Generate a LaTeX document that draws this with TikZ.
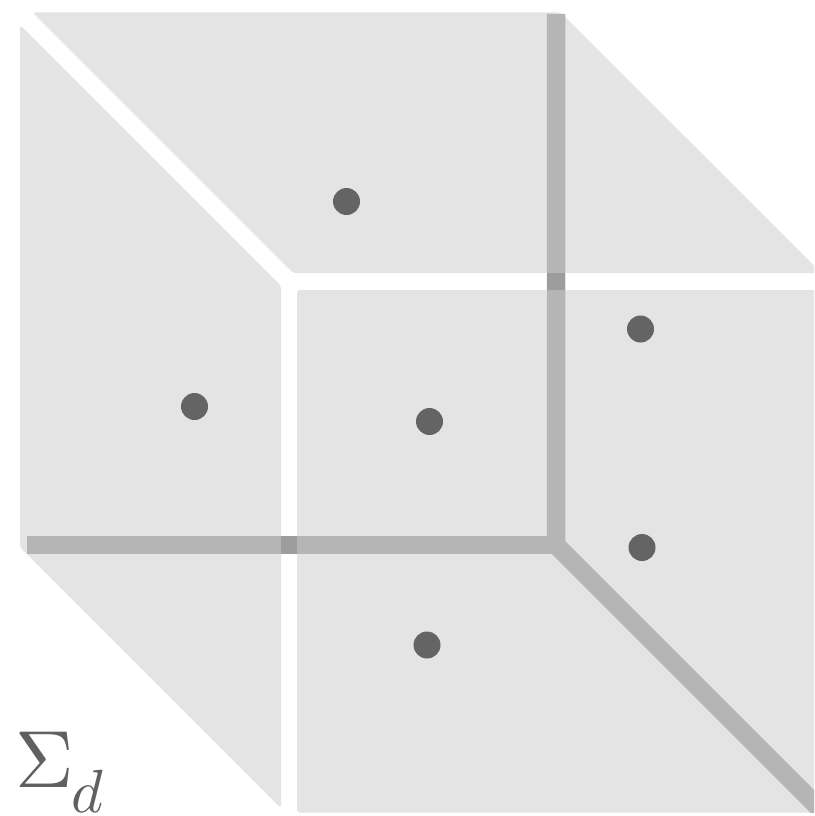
\documentclass[tikz,border=0pt]{standalone}
\usepackage{graphicx}
\definecolor{facegray}{RGB}{228,228,228}
\definecolor{edgegray}{RGB}{180,181,180}
\definecolor{crossgray}{RGB}{156,157,156}
\definecolor{dotgray}{RGB}{100,100,100}
\definecolor{labelgray}{RGB}{96,96,96}
\begin{document}
\begin{tikzpicture}[x=1pt,y=-1pt,
  face/.style={fill=facegray, rounded corners=3pt},
  hidden/.style={draw=edgegray, line width=18.5pt, line join=miter},
  crossing/.style={fill=crossgray},
  dot/.style={circle, fill=dotgray, minimum size=27pt, inner sep=0pt}]
\fill[white] (0,0) rectangle (814,816);
\useasboundingbox (0,0) rectangle (814,816);
\begin{scope}
  \clip (0,0) rectangle (814,816);
  % faces
  \fill[face] (32.5,12.5) -- (560.5,12.5) -- (821.5,273) -- (293,273) -- cycle;
  \fill[face] (20,25) -- (281,286) -- (281,808) -- (20,547) -- cycle;
  \fill[face] (297,290) -- (840,290) -- (840,812.5) -- (297,812.5) -- cycle;
\end{scope}
\begin{scope}
  \clip (0,0) rectangle (814,812.5);
  \coordinate (bt) at (556,14);
  \coordinate (bc) at (556,545);
  \coordinate (bl) at (27,545);
  \coordinate (fe) at (850,839);
  \draw[hidden] (bt) -- (bc) -- (fe);
  \draw[hidden] (bl) -- (bc);
  \fill[crossing] (546.75,273) rectangle (565.25,290);
  \fill[crossing] (281,535.75) rectangle (297,554.25);
\end{scope}
% seeds
\node[dot] (s1) at (346.5,201.5) {};
\node[dot] (s2) at (194.5,406.5) {};
\node[dot] (s3) at (429.5,421.5) {};
\node[dot] (s4) at (640.5,329) {};
\node[dot] (s5) at (642,547.5) {};
\node[dot] (s6) at (427,645) {};
% label
\node[anchor=base west, inner sep=0pt, text=labelgray] (lbl) at (15.5,787)
  {\scalebox{8.1}{$\Sigma$}\kern-3pt\raisebox{-25pt}{\scalebox{6.1}{$d$}}};
\end{tikzpicture}
\end{document}
